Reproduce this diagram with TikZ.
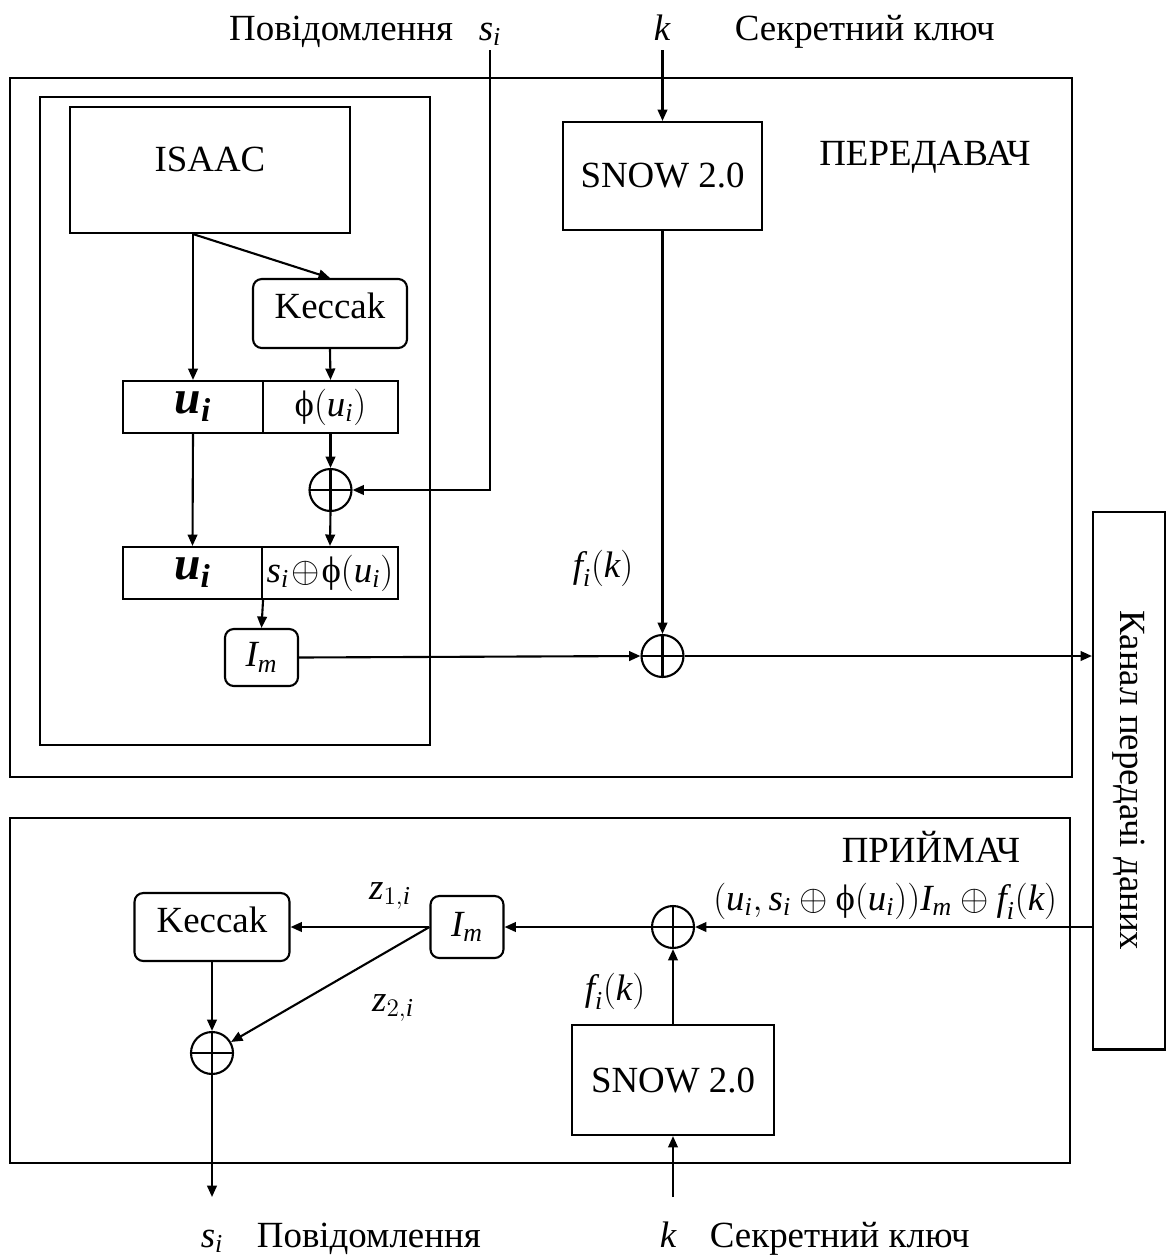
\documentclass[tikz,border=0pt]{standalone}
\usepackage{amsmath, amssymb}
\usepackage{fontspec}
\setmainfont{Liberation Serif}
\usetikzlibrary{arrows.meta,positioning,calc}

\newcommand{\iv}[1]{\textit{#1}}
\newcommand{\bv}[1]{\textbf{\textit{#1}}}
\newcommand{\fii}{\mbox{ϕ}}

\begin{document}
\begin{tikzpicture}[
			x=0.02cm, y=-0.02cm,
			line width=1.2pt,
			every node/.style={font=\fontsize{21}{25}\selectfont},
			blk/.style={rectangle,draw,line width=1.2pt,inner sep=0pt},
			rblk/.style={blk,rounded corners=5pt},
			big/.style={font=\fontsize{27}{30}\selectfont},
			xorn/.style={circle,draw,line width=1.2pt,minimum size=0.84cm,inner sep=0pt,
				path picture={\draw (path picture bounding box.north) -- (path picture bounding box.south)
					(path picture bounding box.west) -- (path picture bounding box.east);}},
			arr/.style={-{Triangle[length=6.5pt,width=5.5pt]}}
		]
		\useasboundingbox (0,0) rectangle (1167,1258);

		% передавач
		\draw (10,78) rectangle (1072,777);
		\draw (40,97) rectangle (430,745);

		\node[blk,minimum width=5.6cm,minimum height=2.52cm,text depth=0.44cm] (isaac) at (210,170) {ISAAC};
		\node[rblk,minimum width=3.08cm,minimum height=1.38cm,text depth=0.3cm] (keccak1) at (330,313.5) {Keccak};
		\node[blk,big,minimum width=2.8cm,minimum height=1.04cm] (ui1) at (193,407) {$\bv{u}_{\bv{i}}$};
		\node[blk,minimum width=2.7cm,minimum height=1.04cm] (phi1) at (330.5,407) {$\fii(\iv{u}_{\iv{i}})$};
		\node[xorn] (xor1) at (330.5,490) {};
		\node[blk,big,minimum width=2.78cm,minimum height=1.04cm] (ui2) at (192.5,573) {$\bv{u}_{\bv{i}}$};
		\node[blk,minimum width=2.72cm,minimum height=1.04cm] (sib) at (330,573) {$\iv{s}_{\iv{i}}\!\oplus\!\fii(\iv{u}_{\iv{i}})$};
		\node[rblk,minimum width=1.46cm,minimum height=1.14cm] (im1) at (261.5,657.5) {$\iv{I}_{\iv{m}}$};

		\node[blk,minimum width=3.98cm,minimum height=2.16cm] (snow1) at (662.5,176) {SNOW 2.0};
		\node[xorn] (xor2) at (662.5,656) {};
		\node (ftx) at (603,568) {$\iv{f}_{\iv{i}}(\iv{k})$};
		\node (peredavach) at (925,157) {ПЕРЕДАВАЧ};

		\node[blk,minimum width=10.76cm,minimum height=1.44cm,rotate=-90] (chan) at (1129,780.5) {Канал передачі даних};

		\node[anchor=base] (sitop) at (490,40) {$\iv{s}_{\iv{i}}$};
		\node[anchor=base east] (msgtop) at (460,40) {Повідомлення};
		\node[anchor=base] (ktop) at (662,40) {$\iv{k}$};
		\node[anchor=base west] (keytop) at (728,40) {Секретний ключ};
		\coordinate (sin) at (490,50);
		\coordinate (kin) at (662.5,50);

		\coordinate (fork) at (isaac.south -| ui1.center);
		\draw[arr] (fork) -- (ui1.north);
		\draw[arr] (fork) -- (keccak1.north);
		\draw[arr] (keccak1.south) -- (phi1.north);
		\draw[arr] (phi1.south) -- (xor1.north);
		\draw[arr] (ui1.south) -- (ui2.north);
		\draw[arr] (xor1.south) -- (sib.north);
		\draw[arr] (sin) |- (xor1.east);
		\draw[arr] (ui2.south east) -- (im1.north);
		\draw[arr] (im1.east) -- (xor2.west);
		\draw[arr] (kin) -- (snow1.north);
		\draw[arr] (snow1.south) -- (xor2.north);
		\draw[arr] (xor2.east) -- (xor2.east -| chan.south);

		% приймач
		\draw (10,818) rectangle (1070,1163);
		\node[anchor=base east] (priymach) at (1027,862) {ПРИЙМАЧ};
		\node[anchor=base east] (chanlbl) at (1064,910) {$(\iv{u}_{\iv{i}},\iv{s}_{\iv{i}}\oplus\fii(\iv{u}_{\iv{i}}))\iv{I}_{\iv{m}}\oplus\iv{f}_{\iv{i}}(\iv{k})$};
		\node[xorn] (xor3) at (673,927) {};
		\node[rblk,minimum width=1.46cm,minimum height=1.24cm] (im2) at (467,927) {$\iv{I}_{\iv{m}}$};
		\node[rblk,minimum width=3.1cm,minimum height=1.36cm,text depth=0.28cm] (keccak2) at (212,927) {Keccak};
		\node[xorn] (xor4) at (212,1053) {};
		\node[blk,minimum width=4.04cm,minimum height=2.2cm] (snow2) at (673,1080) {SNOW 2.0};
		\node (z1) at (390,896) {$\iv{z}_{1,\iv{i}}$};
		\node (z2) at (393,1008) {$\iv{z}_{2,\iv{i}}$};
		\node (frx) at (615,991) {$\iv{f}_{\iv{i}}(\iv{k})$};
		\coordinate (siout) at (212,1197);
		\coordinate (kout) at (673,1197);

		\draw[arr] (xor3.east -| chan.south) -- (xor3.east);
		\draw[arr] (xor3.west) -- (im2.east);
		\draw[arr] (im2.west) -- (keccak2.east);
		\draw[arr] (im2.west) -- (xor4);
		\draw[arr] (keccak2.south) -- (xor4.north);
		\draw[arr] (xor4.south) -- (siout);
		\draw[arr] (snow2.north) -- (xor3.south);
		\draw[arr] (kout) -- (snow2.south);

		\node[anchor=base] (sibot) at (212,1247) {$\iv{s}_{\iv{i}}$};
		\node[anchor=base west] (msgbot) at (250,1247) {Повідомлення};
		\node[anchor=base] (kbot) at (668,1247) {$\iv{k}$};
		\node[anchor=base west] (keybot) at (703,1247) {Секретний ключ};
	\end{tikzpicture}
\end{document}
